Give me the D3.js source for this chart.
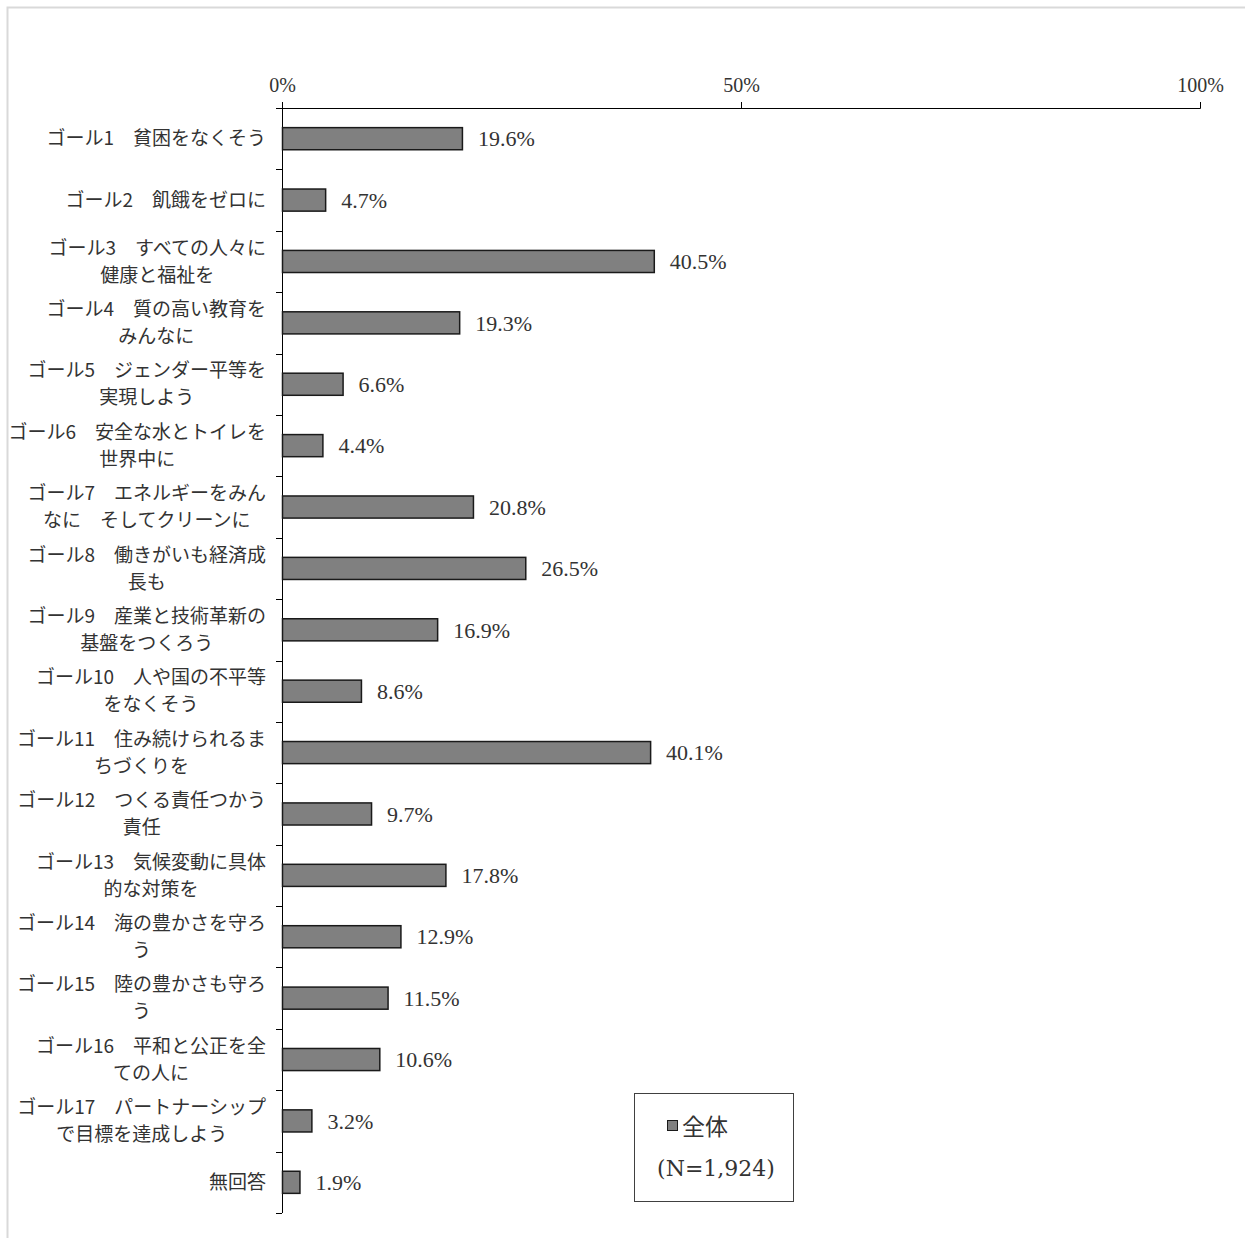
<!DOCTYPE html>
<meta charset="utf-8">
<style>
body { margin: 0; background: #fff; }
text { fill: #333; }
.cat { font: 19px "Noto Sans CJK JP", sans-serif; }
.num { font: 22px "Liberation Serif", serif; }
</style>
<body></body>
<script src="https://d3js.org/d3.v7.min.js"></script>
<script>
// categories, "|" marks the line break used in the reference
const categories = [
    'ゴール1\u3000貧困をなくそう',
    'ゴール2\u3000飢餓をゼロに',
    'ゴール3\u3000すべての人々に|健康と福祉を',
    'ゴール4\u3000質の高い教育を|みんなに',
    'ゴール5\u3000ジェンダー平等を|実現しよう',
    'ゴール6\u3000安全な水とトイレを|世界中に',
    'ゴール7\u3000エネルギーをみん|なに\u3000そしてクリーンに',
    'ゴール8\u3000働きがいも経済成|長も',
    'ゴール9\u3000産業と技術革新の|基盤をつくろう',
    'ゴール10\u3000人や国の不平等|をなくそう',
    'ゴール11\u3000住み続けられるま|ちづくりを',
    'ゴール12\u3000つくる責任つかう|責任',
    'ゴール13\u3000気候変動に具体|的な対策を',
    'ゴール14\u3000海の豊かさを守ろ|う',
    'ゴール15\u3000陸の豊かさも守ろ|う',
    'ゴール16\u3000平和と公正を全|ての人に',
    'ゴール17\u3000パートナーシップ|で目標を達成しよう',
    '無回答'
]
const values = [19.6, 4.7, 40.5, 19.3, 6.6, 4.4, 20.8, 26.5, 16.9, 8.6, 40.1, 9.7, 17.8, 12.9, 11.5, 10.6, 3.2, 1.9]
const xTicks = [0, 50, 100]
const seriesName = '全体'
const sampleNote = '(N=1,924)'

const width = 1245
const height = 1238
const margins = { top: 108, right: 44, bottom: 25, left: 282 }
const innerW = width - margins.left - margins.right
const innerH = height - margins.top - margins.bottom

const svg = d3.select('body')
    .append('svg')
        .attr('width', width)
        .attr('height', height)

// outer chart frame
svg.append('rect')
    .attr('x', 7.5).attr('y', 7.5)
    .attr('width', width + 20).attr('height', height + 20)
    .attr('fill', 'none')
    .attr('stroke', '#d9d9d9')
    .attr('stroke-width', 2)

const g = svg.append('g')
    .attr('transform', `translate(${margins.left}, ${margins.top})`)

const x = d3.scaleLinear().domain([0, 100]).range([0, innerW - 1])
const y = d3.scaleBand()
    .domain(d3.range(categories.length))
    .range([0, innerH])
    .paddingInner(0.64)
    .paddingOuter(0.32)

// top axis
const xAxis = g.append('g')
    .call(d3.axisTop(x).tickValues(xTicks).tickSize(6).tickFormat(d => d + '%'))
xAxis.select('.domain').attr('d', `M0.5,-6V0.5H${x(100) + 0.5}V-6`).attr('stroke', '#000')
xAxis.selectAll('.tick line').attr('stroke', '#000')
xAxis.selectAll('.tick text')
    .attr('class', 'num')
    .style('font-size', '20px')
    .attr('y', -16)

// left axis with ticks on the band boundaries
const boundaries = d3.range(categories.length + 1).map(i => i * innerH / categories.length)
g.append('line')
    .attr('x1', 0.5).attr('x2', 0.5)
    .attr('y1', 0).attr('y2', innerH)
    .attr('stroke', '#000')
g.selectAll('.ytick')
    .data(boundaries)
    .join('line')
        .attr('class', 'ytick')
        .attr('x1', -6).attr('x2', 0)
        .attr('y1', d => Math.round(d) + 0.5)
        .attr('y2', d => Math.round(d) + 0.5)
        .attr('stroke', '#000')

// bars
g.selectAll('.bar')
    .data(values)
    .join('rect')
        .attr('class', 'bar')
        .attr('x', 0.5)
        .attr('y', (d, i) => y(i))
        .attr('width', d => x(d))
        .attr('height', y.bandwidth())
        .attr('fill', '#808080')
        .attr('stroke', '#1a1a1a')
        .attr('stroke-width', 1.5)

// value labels
g.selectAll('.val')
    .data(values)
    .join('text')
        .attr('class', 'num val')
        .attr('x', d => x(d) + 16)
        .attr('y', (d, i) => y(i) + y.bandwidth() / 2)
        .attr('dy', '0.35em')
        .text(d => d.toFixed(1) + '%')

// category labels, block right-aligned, lines centred in block
const labelRight = -16
const lineH = 27
categories.forEach((c, i) => {
    const lines = c.split('|')
    const cy = y(i) + y.bandwidth() / 2
    const t = g.append('g')
    const texts = lines.map((l, j) => t.append('text')
        .attr('class', 'cat')
        .attr('text-anchor', 'middle')
        .attr('y', cy + (j - (lines.length - 1) / 2) * lineH)
        .attr('dy', '0.35em')
        .text(l))
    const maxW = d3.max(texts, s => s.node().getComputedTextLength())
    texts.forEach(s => s.attr('x', labelRight - maxW / 2))
})

// legend
const lg = svg.append('g').attr('transform', 'translate(634, 1093)')
lg.append('rect')
    .attr('x', 0.5).attr('y', 0.5)
    .attr('width', 159).attr('height', 108)
    .attr('fill', '#fff')
    .attr('stroke', '#404040')
lg.append('rect')
    .attr('x', 33.5).attr('y', 27.5)
    .attr('width', 10).attr('height', 10)
    .attr('fill', '#808080')
    .attr('stroke', '#1a1a1a')
lg.append('text')
    .attr('class', 'cat')
    .style('font-size', '23px')
    .attr('x', 48).attr('y', 34)
    .attr('dy', '0.35em')
    .text(seriesName)
lg.append('text')
    .style('font', '22px "DejaVu Serif", serif')
    .attr('x', 82).attr('y', 75)
    .attr('text-anchor', 'middle')
    .attr('dy', '0.35em')
    .text(sampleNote)
</script>
